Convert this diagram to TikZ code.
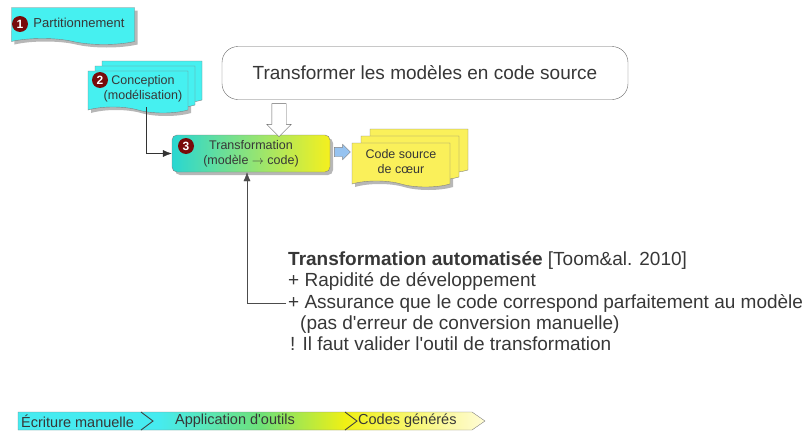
\documentclass[tikz,border=0pt]{standalone}
\usepackage{fontspec}
\setmainfont{Liberation Sans}
\usetikzlibrary{shapes.symbols,shapes.arrows,shadows,arrows.meta}

\definecolor{docblue}{RGB}{70,240,240}
\definecolor{docyellow}{RGB}{250,240,90}
\definecolor{numred}{RGB}{120,10,10}
\definecolor{txtgray}{RGB}{55,55,55}
\definecolor{transleft}{RGB}{40,215,210}
\definecolor{transright}{RGB}{245,240,30}
\definecolor{arrowblue}{RGB}{150,195,240}
\definecolor{legcyan}{RGB}{70,235,240}
\definecolor{leggreen}{RGB}{110,225,120}
\definecolor{legyellow}{RGB}{240,240,20}
\definecolor{legpale}{RGB}{255,252,215}
\pgfdeclarehorizontalshading{legendshade}{100bp}{color(0bp)=(legcyan); color(40bp)=(legcyan);
  color(51bp)=(leggreen); color(60bp)=(legyellow); color(75bp)=(legpale); color(100bp)=(legpale)}

\begin{document}
\begin{tikzpicture}[
        x=1pt, y=-1pt,
        doc/.style={tape, tape bend top=none, tape bend bottom=out and in, tape bend height=6pt,
                draw=black!50, text=txtgray, align=center, inner sep=2pt,
                drop shadow={shadow xshift=3pt, shadow yshift=-3pt, fill=black!40, opacity=0.7}},
        num/.style={circle, fill=numred, text=white, font=\bfseries\fontsize{12}{12}\selectfont,
                inner sep=0pt, minimum size=16pt},
        small/.style={font=\fontsize{12.5}{15}\selectfont},
        note/.style={anchor=base west, text=txtgray, inner sep=2pt, font=\fontsize{19}{21}\selectfont},
        legend/.style={anchor=west, text=txtgray, inner sep=0pt, font=\fontsize{14.5}{16}\selectfont}
    ]
    \useasboundingbox (0,0) rectangle (807,434);

    % documents
    \node[doc, font=\fontsize{13}{15}\selectfont, fill=docblue, minimum width=123pt, minimum height=37pt] (part) at (73,23) {\hspace*{12pt}Partitionnement};
    \node[num] (n1) at (20,24) {1};

    \node[doc, small, fill=docblue, minimum width=100pt, minimum height=42pt,
        double copy shadow={shadow xshift=7pt, shadow yshift=5pt, fill=docblue, draw=black!50}]
        (concep) at (138,89) {\hspace*{10pt}Conception\\\hspace*{10pt}(modélisation)};
    \node[num] (n2) at (100,80) {2};

    \node[draw=black!50, rounded corners=5pt, left color=transleft, right color=transright,
        minimum width=158pt, minimum height=37pt, text=txtgray, align=center, small,
        drop shadow={shadow xshift=3pt, shadow yshift=-3pt, fill=black!40, opacity=0.7}]
        (trans) at (251,153.5) {Transformation\\(modèle $\rightarrow$ code)};
    \node[num] (n3) at (186,146) {3};

    \node[doc, small, fill=docyellow, minimum width=98pt, minimum height=44pt,
        double copy shadow={shadow xshift=9pt, shadow yshift=7pt, fill=docyellow, draw=black!50}]
        (code) at (401,162) {Code source\\de c\oe ur};

    \node[draw=black!60, fill=white, rounded corners=16pt, minimum width=406pt, minimum height=53pt,
        text=txtgray, font=\fontsize{19}{21}\selectfont] (goal) at (425,73) {Transformer les modèles en code source};

    % block arrows
    \node[single arrow, draw=black!60, fill=white, rotate=-90, minimum height=33pt,
        single arrow head extend=5pt, inner xsep=0pt, inner ysep=7pt] (down) at (279,116.5) {};
    \node[single arrow, draw=black!50, fill=arrowblue, minimum height=16pt,
        single arrow head extend=3pt, inner xsep=0pt, inner ysep=4.5pt] (right) at (340,152) {};

    % note
    \node[note] (title) at (286,265) {\textbf{Transformation automatisée} [Toom\&al. 2010]};
    \node[note] (plus1) at (286,286) {+ Rapidité de développement};
    \node[note] (plus2) at (286,308) {+ Assurance que le code correspond parfaitement au modèle};
    \node[note] (plus2b) at (298,329) {(pas d\textquotesingle erreur de conversion manuelle)};
    \node[note] (warn) at (288,350) {! Il faut valider l\textquotesingle outil de transformation};

    \draw[black!80, -{Latex[length=9pt,width=7pt]}] ([xshift=8pt]concep.south) |- (trans.west);
    \draw[black!70, -{Latex[length=9pt,width=7pt]}] (plus2.west) -| ([xshift=-4pt]trans.south);

    % legend
    \shade[shading=legendshade, draw=black!50] (18,412) -- (472,412) -- (485,421) -- (472,430) -- (18,430) -- cycle;
    \draw[black!75, line width=0.9pt] (141,412) -- (153,421) -- (141,430);
    \draw[black!75, line width=0.9pt] (345,412) -- (357,421) -- (345,430);
    \node[legend] (manual) at (21,421) {Écriture manuelle};
    \node[legend] (tools) at (175,421) {Application d\textquotesingle outils};
    \node[legend] (gen) at (358,421) {Codes générés};
\end{tikzpicture}
\end{document}
